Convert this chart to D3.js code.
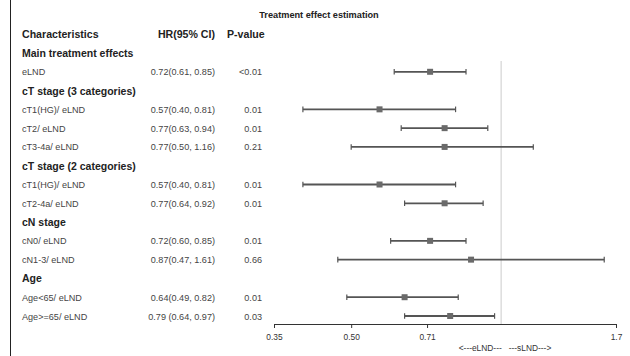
<!DOCTYPE html>
<html><head><meta charset="utf-8">
<script src="https://cdn.jsdelivr.net/npm/d3@7"></script>
<style>body{margin:0;background:#fff}svg{display:block;font-family:"Liberation Sans",Arial,sans-serif}</style>
</head><body><svg id="c" width="630" height="356"></svg>
<script>
const labels = ["Main treatment effects","eLND","cT stage (3 categories)","cT1(HG)/ eLND","cT2/ eLND","cT3-4a/ eLND","cT stage (2 categories)","cT1(HG)/ eLND","cT2-4a/ eLND","cN stage","cN0/ eLND","cN1-3/ eLND","Age","Age<65/ eLND","Age>=65/ eLND"];
const isHeader = [true,false,true,false,false,false,true,false,false,true,false,false,true,false,false];
const hrText = ["","0.72(0.61, 0.85)","","0.57(0.40, 0.81)","0.77(0.63, 0.94)","0.77(0.50, 1.16)","","0.57(0.40, 0.81)","0.77(0.64, 0.92)","","0.72(0.60, 0.85)","0.87(0.47, 1.61)","","0.64(0.49, 0.82)","0.79 (0.64, 0.97)"];
const pText = ["","<0.01","","0.01","0.01","0.21","","0.01","0.01","","0.01","0.66","","0.01","0.03"];
const hr = [null,0.72,null,0.57,0.77,0.77,null,0.57,0.77,null,0.72,0.87,null,0.64,0.79];
const lo = [null,0.61,null,0.40,0.63,0.50,null,0.40,0.64,null,0.60,0.47,null,0.49,0.64];
const hi = [null,0.85,null,0.81,0.94,1.16,null,0.81,0.92,null,0.85,1.61,null,0.82,0.97];
const tickVals = [0.35,0.50,0.71,1.7];
const tickLabels = ["0.35","0.50","0.71","1.7"];

const svg = d3.select("#c");
const x = d3.scaleLog().domain([0.35,1.7]).range([274,616]);
const y = d3.scaleLinear().domain([0,14]).range([53,316]);

svg.append("line").attr("x1",10.5).attr("x2",10.5).attr("y1",0).attr("y2",356).attr("stroke","#222").attr("stroke-width",1);

svg.append("text").attr("x",319).attr("y",18).attr("text-anchor","middle").attr("font-size",9.2).attr("font-weight","bold").attr("fill","#222").text("Treatment effect estimation");

const hdr = svg.append("g").attr("font-size",10.6).attr("font-weight","bold").attr("fill","#222");
hdr.append("text").attr("x",22).attr("y",38).text("Characteristics");
hdr.append("text").attr("x",215).attr("y",38).attr("text-anchor","end").text("HR(95% CI)");
hdr.append("text").attr("x",227).attr("y",38).text("P-value");

const rows = svg.append("g").selectAll("g").data(labels).join("g").attr("transform",(d,i)=>`translate(0,${y(i)})`);
rows.append("text").attr("x",22).attr("y",(d,i)=>isHeader[i]?4:3.5)
  .attr("font-size",(d,i)=>isHeader[i]?10.5:9.1).attr("font-weight",(d,i)=>isHeader[i]?"bold":"normal")
  .attr("fill",(d,i)=>isHeader[i]?"#222":"#444").text(d=>d);
rows.append("text").attr("x",215).attr("y",3.5).attr("text-anchor","end").attr("font-size",9.1).attr("fill","#444").text((d,i)=>hrText[i]);
rows.append("text").attr("x",262).attr("y",3.5).attr("text-anchor","end").attr("font-size",9.1).attr("fill","#444").text((d,i)=>pText[i]);

// reference line at 1
svg.append("line").attr("x1",x(1)).attr("x2",x(1)).attr("y1",61).attr("y2",324).attr("stroke","#ddd").attr("stroke-width",1.5);

const idx = d3.range(labels.length).filter(i=>hr[i]!=null);
const g = svg.append("g");
idx.forEach(i=>{
  const yy = y(i);
  g.append("line").attr("x1",x(lo[i])).attr("x2",x(hi[i])).attr("y1",yy).attr("y2",yy).attr("stroke","#555").attr("stroke-width",1.8);
  [lo[i],hi[i]].forEach(v=>g.append("line").attr("x1",x(v)).attr("x2",x(v)).attr("y1",yy-2.8).attr("y2",yy+2.8).attr("stroke","#555").attr("stroke-width",1.2));
  g.append("rect").attr("x",x(hr[i])-3).attr("y",yy-3).attr("width",6).attr("height",6).attr("fill","#6a6a6a");
});

const axis = d3.axisBottom(x).tickValues(tickVals).tickFormat((d,i)=>tickLabels[i]).tickSize(4).tickPadding(6);
const ax = svg.append("g").attr("transform","translate(0,324)").call(axis);
ax.select(".domain").attr("stroke","#333");
ax.selectAll(".tick line").attr("stroke","#333");
ax.selectAll(".tick text").attr("font-size",8.4).attr("fill","#333").attr("font-family","Liberation Sans, Arial, sans-serif");

svg.append("text").attr("x",505).attr("y",351).attr("text-anchor","middle").attr("font-size",8.4).attr("fill","#333").attr("xml:space","preserve").style("white-space","pre").text("<---eLND---   ---sLND--->");
</script></body></html>
